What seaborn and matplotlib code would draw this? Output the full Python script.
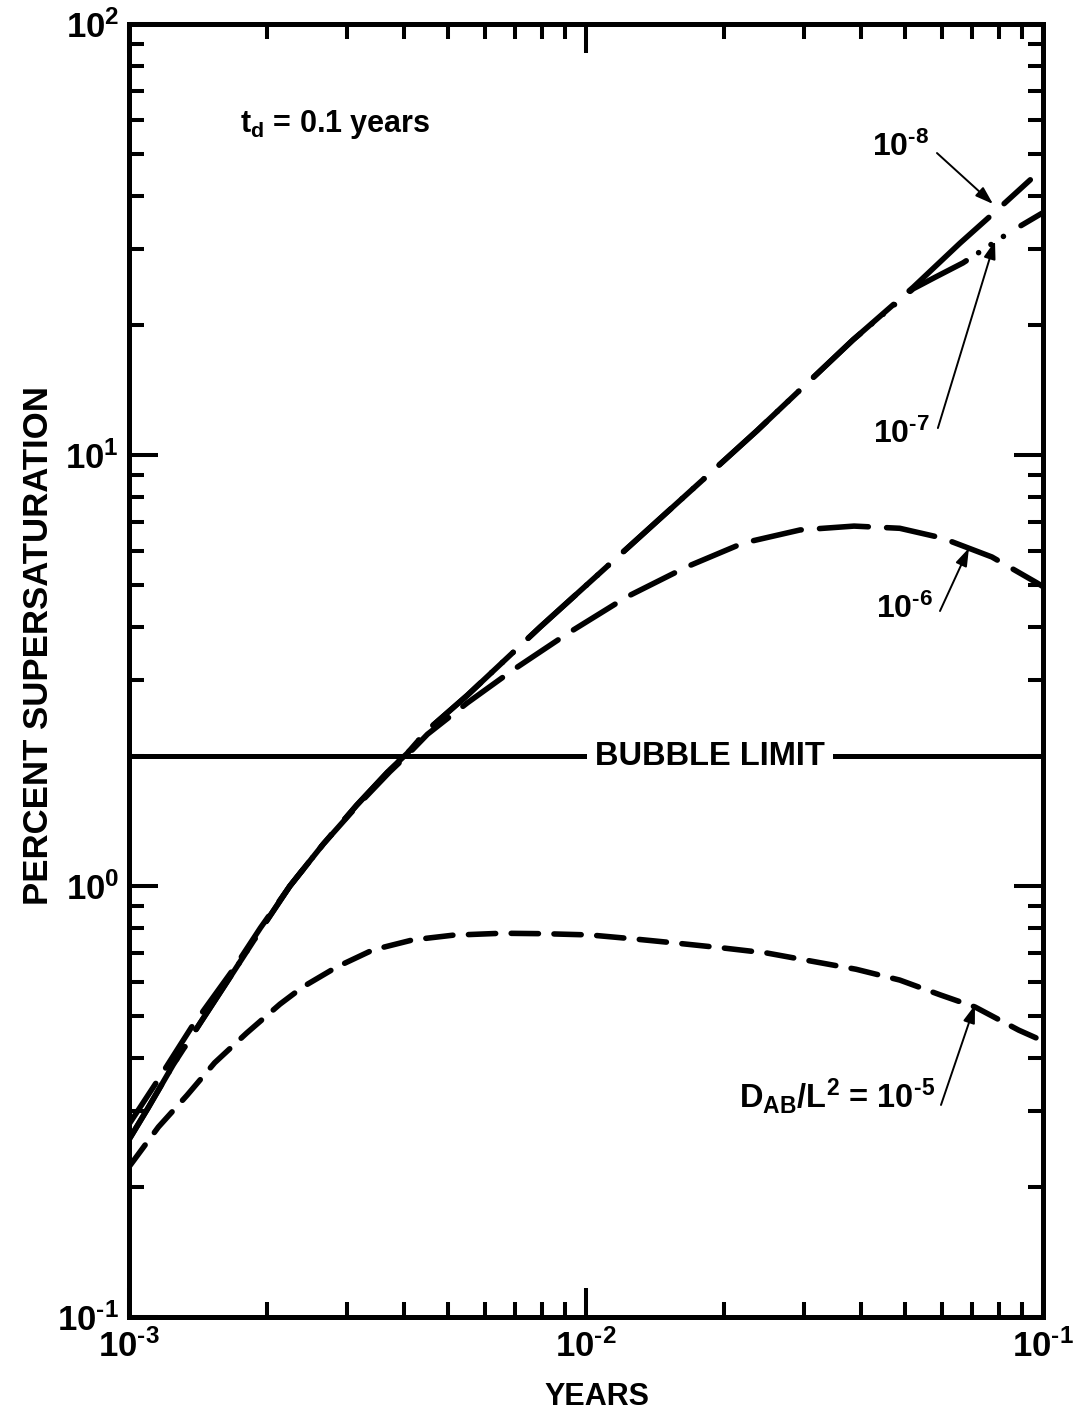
import numpy as np
import pandas as pd
import matplotlib
matplotlib.use("Agg")
import matplotlib.pyplot as plt
import seaborn as sns
from matplotlib.ticker import FixedLocator, FixedFormatter, LogLocator, NullFormatter

# ---- curve data: percent supersaturation vs. time (years), t_d = 0.1 years ----
years_1e5 = [0.00100, 0.00116, 0.00134, 0.00154, 0.00181, 0.00214, 0.00240, 0.00285,
             0.00342, 0.00418, 0.00512, 0.00655, 0.00816, 0.0102, 0.0127, 0.0156,
             0.0200, 0.0249, 0.0310, 0.0390, 0.0486, 0.0596, 0.0710, 0.0885, 0.1000]
supersat_1e5 = [0.223, 0.276, 0.327, 0.389, 0.456, 0.532, 0.583, 0.649,
                0.711, 0.750, 0.769, 0.777, 0.775, 0.770, 0.754, 0.738,
                0.718, 0.699, 0.670, 0.641, 0.605, 0.559, 0.524, 0.463, 0.437]

years_1e6 = [0.00100, 0.00115, 0.00137, 0.00169, 0.00194, 0.00225, 0.00266, 0.00315,
             0.00372, 0.00406, 0.00450, 0.00550, 0.00692, 0.00914, 0.0123, 0.0166,
             0.0221, 0.0294, 0.0386, 0.0486, 0.0601, 0.0773, 0.0970, 0.1000]
supersat_1e6 = [0.280, 0.351, 0.470, 0.640, 0.800, 1.00, 1.25, 1.53,
                1.84, 2.01, 2.25, 2.66, 3.17, 3.86, 4.69, 5.50,
                6.25, 6.70, 6.84, 6.76, 6.42, 5.80, 5.05, 4.95]

years_1e7 = [0.00100, 0.00110, 0.00125, 0.00143, 0.00169, 0.00194, 0.00225, 0.00266,
             0.00315, 0.00372, 0.00406, 0.00450, 0.00550, 0.00794, 0.0131, 0.0180,
             0.0237, 0.0384, 0.0520, 0.0583, 0.0668, 0.0847, 0.1000]
supersat_1e7 = [0.258, 0.305, 0.385, 0.480, 0.630, 0.790, 1.00, 1.25,
                1.54, 1.86, 2.03, 2.30, 2.77, 3.99, 6.45, 8.75,
                11.4, 18.5, 24.3, 25.9, 27.9, 32.9, 36.5]

years_1e8 = [0.00100, 0.00110, 0.00125, 0.00143, 0.00169, 0.00194, 0.00225, 0.00266,
             0.00315, 0.00372, 0.00406, 0.00450, 0.00550, 0.00794, 0.0131, 0.0180,
             0.0237, 0.0384, 0.0520, 0.0658, 0.0800, 0.0938]
supersat_1e8 = [0.258, 0.305, 0.385, 0.480, 0.630, 0.790, 1.00, 1.25,
                1.54, 1.86, 2.03, 2.30, 2.77, 3.99, 6.45, 8.75,
                11.4, 18.5, 24.5, 31.0, 37.3, 43.5]

curve_names = ["1e-5", "1e-6", "1e-7", "1e-8"]
bubble_limit = 2.0

x_tick_values = [1e-3, 1e-2, 1e-1]
x_tick_labels = [r"$10^{\text{-}3}$", r"$10^{\text{-}2}$", r"$10^{\text{-}1}$"]
y_tick_values = [1e-1, 1e0, 1e1, 1e2]
y_tick_labels = [r"$10^{\text{-}1}$", r"$10^{0}$", r"$10^{1}$", r"$10^{2}$"]

# ---- style ----
sns.set_theme(style="ticks")
plt.rcParams.update({
    "font.family": ["Liberation Sans", "DejaVu Sans"],
    "font.weight": "bold",
    "mathtext.fontset": "custom",
    "mathtext.rm": "Liberation Sans:bold",
    "mathtext.it": "Liberation Sans:bold",
    "mathtext.bf": "Liberation Sans:bold",
    "mathtext.sf": "Liberation Sans:bold",
    "mathtext.default": "rm",
    "axes.edgecolor": "black",
    "axes.linewidth": 3.6,
    "xtick.color": "black",
    "ytick.color": "black",
    "text.color": "black",
    "axes.labelcolor": "black",
})

fig = plt.figure(figsize=(10.91, 14.11), dpi=100)
ax = fig.add_axes([0.1182, 0.0666, 0.8378, 0.9164])
ax.set_xscale("log")
ax.set_yscale("log")

frames = []
for name, xs, ys in [("1e-5", years_1e5, supersat_1e5),
                     ("1e-6", years_1e6, supersat_1e6),
                     ("1e-7", years_1e7, supersat_1e7),
                     ("1e-8", years_1e8, supersat_1e8)]:
    frames.append(pd.DataFrame({"years": xs, "supersat": ys, "curve": name}))
df = pd.concat(frames, ignore_index=True)

# dash patterns in units of line width; the 1e-7 pattern shares the 1e-8 period
# so the two coincide where the curves overlap
dash_map = {
    "1e-5": (4.9, 2.8),
    "1e-6": (8.8, 3.3),
    "1e-7": (11.5, 2.66, 0.01, 2.66, 0.01, 2.66, 0.01, 3.71),
    "1e-8": (19.5, 3.71),
}

sns.lineplot(data=df, x="years", y="supersat", hue="curve", style="curve",
             hue_order=curve_names, style_order=curve_names,
             palette={k: "black" for k in curve_names}, dashes=dash_map,
             estimator=None, sort=False, legend=False, linewidth=4,
             dash_capstyle="round", ax=ax, zorder=3)

ax.axhline(bubble_limit, color="black", lw=3.6, zorder=2)

ax.set_xlim(1e-3, 1e-1)
ax.set_ylim(1e-1, 1e2)

# ---- ticks ----
ax.xaxis.set_major_locator(FixedLocator(x_tick_values))
ax.xaxis.set_major_formatter(FixedFormatter(x_tick_labels))
ax.yaxis.set_major_locator(FixedLocator(y_tick_values))
ax.yaxis.set_major_formatter(FixedFormatter(y_tick_labels))
for axis in (ax.xaxis, ax.yaxis):
    axis.set_minor_locator(LogLocator(base=10, subs=np.arange(2, 10), numticks=20))
    axis.set_minor_formatter(NullFormatter())

ax.tick_params(which="both", direction="in", top=True, right=True,
               width=2.9, colors="black")
ax.tick_params(which="major", length=21, labelsize=25)
ax.tick_params(which="minor", length=11)
ax.tick_params(axis="x", which="major", pad=9)
ax.tick_params(axis="y", which="major", pad=7)

# ---- axis labels ----
ax.set_xlabel("YEARS", fontsize=22, fontweight="bold")
ax.xaxis.set_label_coords(0.512, -0.050)
ax.set_ylabel("PERCENT SUPERSATURATION", fontsize=25, fontweight="bold")
ax.yaxis.set_label_coords(-0.081, 0.519)

# ---- annotations ----
ax.text(0.1214, 0.9165, r"$t_d$ = 0.1 years", transform=ax.transAxes,
        fontsize=22, fontweight="bold", ha="left", va="baseline")

ax.text(0.6357, 0.4269, "BUBBLE LIMIT", transform=ax.transAxes,
        fontsize=23.5, fontweight="bold", ha="center", va="baseline", zorder=4,
        bbox=dict(facecolor="white", edgecolor="none", pad=6))

label_specs = [
    (r"$10^{\text{-}8}$", 0.8446, 0.8979, "center", 23),
    (r"$10^{\text{-}7}$", 0.8446, 0.6759, "center", 23),
    (r"$10^{\text{-}6}$", 0.8490, 0.5406, "center", 23),
    (r"$D_{AB}/L^{2}$ = $10^{\text{-}5}$", 0.8818, 0.1616, "right", 23.5),
]
for txt, xf, yf, ha, fs in label_specs:
    ax.text(xf, yf, txt, transform=ax.transAxes, fontsize=fs,
            fontweight="bold", ha=ha, va="baseline", zorder=5)

arrow_specs = [
    ((0.884, 0.9002), (0.9453, 0.8608)),
    ((0.885, 0.6875), (0.9475, 0.8322)),
    ((0.8873, 0.5460), (0.9190, 0.5947)),
    ((0.8884, 0.1640), (0.9256, 0.2413)),
]
for tail, tip in arrow_specs:
    ax.annotate("", xy=tip, xytext=tail, xycoords="axes fraction",
                textcoords="axes fraction", zorder=5,
                arrowprops=dict(arrowstyle="-|>,head_length=0.9,head_width=0.3",
                                lw=1.4, color="black", mutation_scale=12,
                                shrinkA=0, shrinkB=0))

fig.savefig("out.png", dpi=100)
